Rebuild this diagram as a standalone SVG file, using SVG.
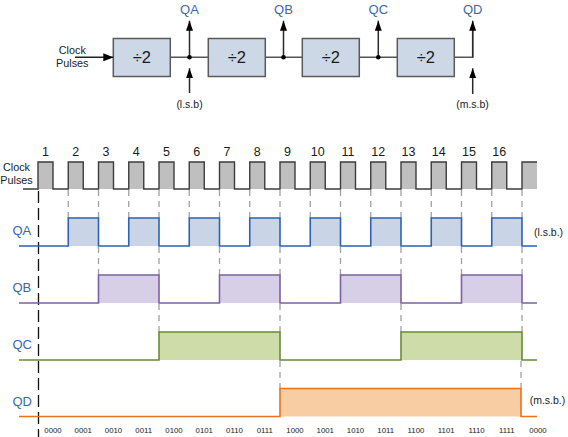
<svg xmlns="http://www.w3.org/2000/svg" width="568" height="437" viewBox="0 0 568 437">
<style>
text{font-family:"Liberation Sans",Arial,sans-serif;}
.bx{fill:#cdd8e7;stroke:#5a5a5a;stroke-width:1.5;}
.dv{font-size:16.5px;fill:#1a1a1a;text-anchor:middle;}
.ln{stroke:#555;stroke-width:1.5;fill:none;}
.vl{stroke:#2a2a2a;stroke-width:1.5;fill:none;}
.ql{font-size:13px;fill:#3a66b5;}
.qt{font-size:13px;fill:#3a66b5;text-anchor:middle;}
.sm{font-size:10.5px;fill:#1a1a1a;text-anchor:middle;}
.cl{font-size:10.8px;fill:#1a1a1a;text-anchor:middle;}
.num{font-size:12.5px;fill:#1a1a1a;text-anchor:middle;}
.bin{font-size:7.8px;fill:#1a1a1a;text-anchor:middle;}
.gd{stroke:#a0a0a0;stroke-width:1.3;stroke-dasharray:6,5;fill:none;}
.bd{stroke:#111;stroke-width:1.3;stroke-dasharray:12,5;fill:none;}
</style>
<defs>
<marker id="ah" markerWidth="10" markerHeight="8" refX="10" refY="4" orient="auto" markerUnits="userSpaceOnUse">
<path d="M0,0 L10,4 L0,8 Z" fill="#000"/>
</marker>
<marker id="au" markerWidth="10" markerHeight="7" refX="10" refY="3.5" orient="auto" markerUnits="userSpaceOnUse">
<path d="M0,0 L10,3.5 L0,7 Z" fill="#000"/>
</marker>
</defs>

<!-- Top block diagram -->
<g id="input-label">
<text class="cl" x="72.3" y="54.3">Clock</text>
<text class="cl" x="72.3" y="66.7">Pulses</text>
</g>
<g id="div1"><rect class="bx" x="113.3" y="38.5" width="57" height="38"/><text class="dv" x="141.8" y="63">÷2</text></g>
<g id="div2"><rect class="bx" x="208.3" y="38.5" width="57" height="38"/><text class="dv" x="236.8" y="63">÷2</text></g>
<g id="div3"><rect class="bx" x="302.3" y="38.5" width="57" height="38"/><text class="dv" x="330.8" y="63">÷2</text></g>
<g id="div4"><rect class="bx" x="397.3" y="38.5" width="57" height="38"/><text class="dv" x="425.8" y="63">÷2</text></g>

<g id="connectors">
<line x1="75" y1="57.3" x2="113.3" y2="57.3" stroke="#222" stroke-width="1.5" marker-end="url(#ah)"/>
<line class="ln" x1="170.3" y1="57.3" x2="208.3" y2="57.3"/>
<line class="ln" x1="265.3" y1="57.3" x2="302.3" y2="57.3"/>
<line class="ln" x1="359.3" y1="57.3" x2="397.3" y2="57.3"/>
<polyline class="ln" points="454.3,57.3 472.7,57.3 472.7,30"/>
<line class="vl" x1="189.5" y1="57.3" x2="189.5" y2="20.7" marker-end="url(#au)"/>
<line class="vl" x1="283.5" y1="57.3" x2="283.5" y2="20.7" stroke="#444" marker-end="url(#au)"/>
<line class="vl" x1="378.3" y1="57.3" x2="378.3" y2="20.7" marker-end="url(#au)"/>
<line class="vl" x1="472.7" y1="57.3" x2="472.7" y2="20.7" stroke="#444" marker-end="url(#au)"/>
<line class="vl" x1="189.5" y1="93" x2="189.5" y2="68.3" marker-end="url(#au)"/>
<line class="vl" x1="472.7" y1="94" x2="472.7" y2="68.3" stroke="#444" marker-end="url(#au)"/>
<circle cx="189.5" cy="57.3" r="2.3" fill="#000"/>
<circle cx="283.5" cy="57.3" r="2.3" fill="#000"/>
<circle cx="378.3" cy="57.3" r="2.3" fill="#000"/>
</g>

<g id="outputs">
<text class="qt" x="189.5" y="14">QA</text>
<text class="qt" x="283.5" y="14">QB</text>
<text class="qt" x="378.3" y="14">QC</text>
<text class="qt" x="472.7" y="14">QD</text>
<text class="sm" x="189.5" y="107.5">(l.s.b)</text>
<text class="sm" x="472.5" y="107.5">(m.s.b)</text>
</g>

<!-- Timing diagram -->
<g id="clock">
<g fill="#bfbfbf">
<rect x="38" y="162" width="15" height="27"/><rect x="68.25" y="162" width="15" height="27"/><rect x="98.5" y="162" width="15" height="27"/><rect x="128.75" y="162" width="15" height="27"/><rect x="159" y="162" width="15" height="27"/><rect x="189.25" y="162" width="15" height="27"/><rect x="219.5" y="162" width="15" height="27"/><rect x="249.75" y="162" width="15" height="27"/><rect x="280" y="162" width="15" height="27"/><rect x="310.25" y="162" width="15" height="27"/><rect x="340.5" y="162" width="15" height="27"/><rect x="370.75" y="162" width="15" height="27"/><rect x="401" y="162" width="15" height="27"/><rect x="431.25" y="162" width="15" height="27"/><rect x="461.5" y="162" width="15" height="27"/><rect x="491.75" y="162" width="15" height="27"/><rect x="522" y="162" width="15" height="27"/>
</g>
<path d="M23,189 H38 V162 H53 V189 H68.25 V162 H83.25 V189 H98.5 V162 H113.5 V189 H128.75 V162 H143.75 V189 H159 V162 H174 V189 H189.25 V162 H204.25 V189 H219.5 V162 H234.5 V189 H249.75 V162 H264.75 V189 H280 V162 H295 V189 H310.25 V162 H325.25 V189 H340.5 V162 H355.5 V189 H370.75 V162 H385.75 V189 H401 V162 H416 V189 H431.25 V162 H446.25 V189 H461.5 V162 H476.5 V189 H491.75 V162 H506.75 V189 H522 V162 H537" fill="none" stroke="#3c3c3c" stroke-width="1.4"/>
<text class="cl" x="16.5" y="171">Clock</text>
<text class="cl" x="16.5" y="184">Pulses</text>
<text class="num" x="45.5" y="156">1</text><text class="num" x="75.75" y="156">2</text><text class="num" x="106" y="156">3</text><text class="num" x="136.25" y="156">4</text><text class="num" x="166.5" y="156">5</text><text class="num" x="196.75" y="156">6</text><text class="num" x="227" y="156">7</text><text class="num" x="257.25" y="156">8</text><text class="num" x="287.5" y="156">9</text><text class="num" x="317.75" y="156">10</text><text class="num" x="348" y="156">11</text><text class="num" x="378.25" y="156">12</text><text class="num" x="408.5" y="156">13</text><text class="num" x="438.75" y="156">14</text><text class="num" x="469" y="156">15</text><text class="num" x="499.25" y="156">16</text>
</g>

<g id="guides">
<line class="bd" x1="38.5" y1="191" x2="38.5" y2="437"/>
<path class="gd" d="M68.25,190V218 M98.5,190V218 M128.75,190V218 M159,190V218 M189.25,190V218 M219.5,190V218 M249.75,190V218 M280,190V218 M310.25,190V218 M340.5,190V218 M370.75,190V218 M401,190V218 M431.25,190V218 M461.5,190V218 M491.75,190V218 M522,190V218"/>
<path class="gd" d="M98.5,247V275 M159,247V275 M219.5,247V275 M280,247V275 M340.5,247V275 M401,247V275 M461.5,247V275 M522,247V275"/>
<path class="gd" d="M159,304V332 M280,304V332 M401,304V332 M522,304V332"/>
<path class="gd" d="M280,361V388.5 M521,361V388.5"/>
</g>

<g id="QA">
<g fill="#c9d5e7">
<rect x="68.25" y="218" width="30.25" height="28"/><rect x="128.75" y="218" width="30.25" height="28"/><rect x="189.25" y="218" width="30.25" height="28"/><rect x="249.75" y="218" width="30.25" height="28"/><rect x="310.25" y="218" width="30.25" height="28"/><rect x="370.75" y="218" width="30.25" height="28"/><rect x="431.25" y="218" width="30.25" height="28"/><rect x="491.75" y="218" width="30.25" height="28"/>
</g>
<path d="M19,246 H68.25 V218 H98.5 V246 H128.75 V218 H159 V246 H189.25 V218 H219.5 V246 H249.75 V218 H280 V246 H310.25 V218 H340.5 V246 H370.75 V218 H401 V246 H431.25 V218 H461.5 V246 H491.75 V218 H522 V246 H537" fill="none" stroke="#2f62b0" stroke-width="1.6"/>
<text class="ql" x="12.5" y="235">QA</text>
<text class="sm" x="548.5" y="236" font-size="10.3px">(l.s.b.)</text>
</g>

<g id="QB">
<g fill="#d7cfe6">
<rect x="98.5" y="275" width="60.5" height="28"/><rect x="219.5" y="275" width="60.5" height="28"/><rect x="340.5" y="275" width="60.5" height="28"/><rect x="461.5" y="275" width="60.5" height="28"/>
</g>
<path d="M19,303 H98.5 V275 H159 V303 H219.5 V275 H280 V303 H340.5 V275 H401 V303 H461.5 V275 H522 V303 H537" fill="none" stroke="#7b62a3" stroke-width="1.6"/>
<text class="ql" x="12.5" y="292">QB</text>
</g>

<g id="QC">
<g fill="#cddca9">
<rect x="159" y="332" width="121" height="28"/><rect x="401" y="332" width="121" height="28"/>
</g>
<path d="M19,360 H159 V332 H280 V360 H401 V332 H522 V360 H537" fill="none" stroke="#6a8a38" stroke-width="1.6"/>
<text class="ql" x="12.5" y="349">QC</text>
</g>

<g id="QD">
<rect x="280" y="388.5" width="241" height="28" fill="#f9cda3"/>
<path d="M19,416.5 H280 V388.5 H521 V416.5 H537" fill="none" stroke="#e8731c" stroke-width="1.6"/>
<text class="ql" x="12.5" y="405.5">QD</text>
<text class="sm" x="547.5" y="403.5" font-size="10.3px">(m.s.b.)</text>
</g>

<g id="counts">
<text class="bin" x="53" y="433">0000</text><text class="bin" x="83.25" y="433">0001</text><text class="bin" x="113.5" y="433">0010</text><text class="bin" x="143.75" y="433">0011</text><text class="bin" x="174" y="433">0100</text><text class="bin" x="204.25" y="433">0101</text><text class="bin" x="234.5" y="433">0110</text><text class="bin" x="264.75" y="433">0111</text><text class="bin" x="295" y="433">1000</text><text class="bin" x="325.25" y="433">1001</text><text class="bin" x="355.5" y="433">1010</text><text class="bin" x="385.75" y="433">1011</text><text class="bin" x="416" y="433">1100</text><text class="bin" x="446.25" y="433">1101</text><text class="bin" x="476.5" y="433">1110</text><text class="bin" x="506.75" y="433">1111</text><text class="bin" x="538" y="433">0000</text>
</g>
</svg>
